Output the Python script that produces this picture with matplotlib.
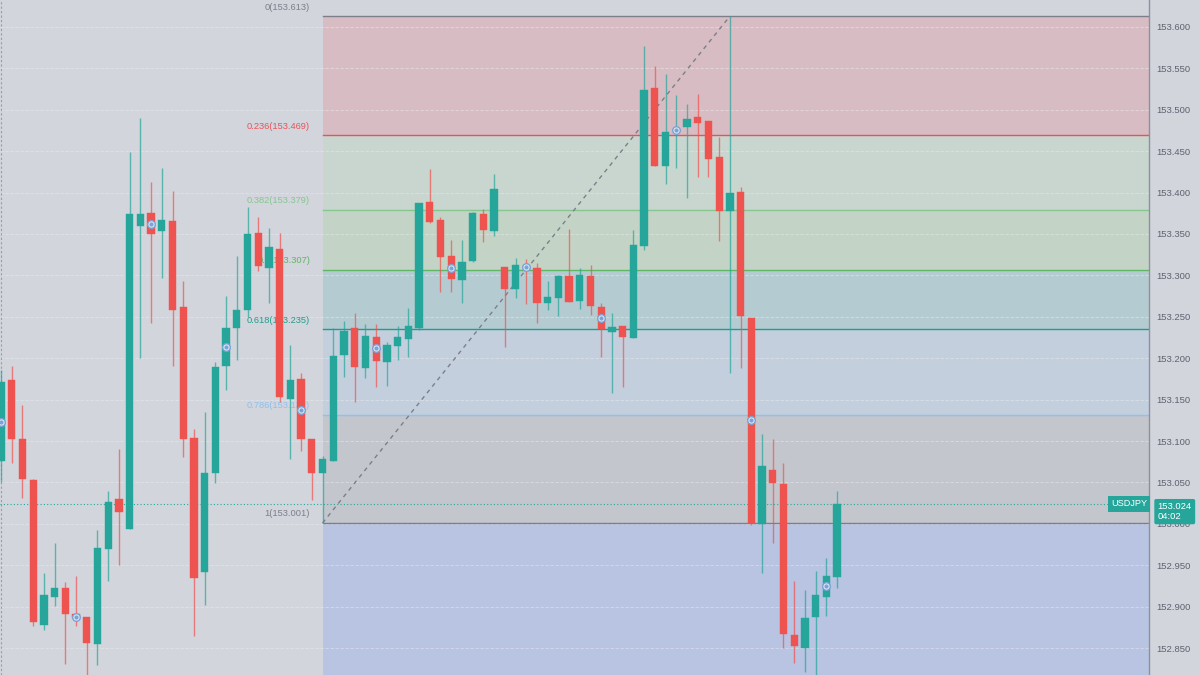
import matplotlib.pyplot as plt
from matplotlib.transforms import blended_transform_factory

# USDJPY velas (precios)
opens = [153.076, 153.174, 153.102, 153.053, 152.878, 152.912, 152.922, 152.891, 152.887, 152.855,
         152.970, 153.030, 152.994, 153.360, 153.375, 153.354, 153.366, 153.262, 153.104, 152.942,
         153.061, 153.191, 153.236, 153.258, 153.351, 153.309, 153.332, 153.151, 153.175, 153.102,
         153.061, 153.076, 153.204, 153.236, 153.188, 153.226, 153.195, 153.215, 153.223, 153.236,
         153.389, 153.367, 153.323, 153.294, 153.317, 153.374, 153.354, 153.310, 153.284, 153.311,
         153.309, 153.267, 153.273, 153.299, 153.269, 153.299, 153.262, 153.232, 153.239, 153.224,
         153.336, 153.526, 153.432, 153.474, 153.479, 153.491, 153.486, 153.443, 153.378, 153.401,
         153.249, 153.000, 153.065, 153.048, 152.866, 152.850, 152.887, 152.912, 152.936]
highs = [153.186, 153.191, 153.143, 153.054, 152.941, 152.977, 152.930, 152.937, 152.887, 152.993,
         153.040, 153.090, 153.449, 153.490, 153.413, 153.430, 153.402, 153.293, 153.114, 153.135,
         153.195, 153.275, 153.323, 153.383, 153.371, 153.357, 153.351, 153.216, 153.182, 153.102,
         153.082, 153.236, 153.245, 153.255, 153.241, 153.241, 153.220, 153.239, 153.261, 153.387,
         153.429, 153.371, 153.343, 153.343, 153.377, 153.380, 153.422, 153.310, 153.321, 153.320,
         153.315, 153.293, 153.300, 153.356, 153.309, 153.313, 153.267, 153.255, 153.239, 153.355,
         153.577, 153.553, 153.543, 153.518, 153.507, 153.519, 153.486, 153.467, 153.613, 153.407,
         153.249, 153.108, 153.102, 153.073, 152.931, 152.920, 152.943, 152.959, 153.040]
lows = [153.050, 153.073, 153.031, 152.876, 152.872, 152.901, 152.831, 152.877, 152.810, 152.829,
        152.931, 152.950, 152.994, 153.200, 153.243, 153.297, 153.191, 153.081, 152.865, 152.902,
        153.049, 153.162, 153.198, 153.250, 153.305, 153.267, 153.147, 153.078, 153.088, 153.029,
        153.001, 153.076, 153.177, 153.147, 153.176, 153.165, 153.166, 153.198, 153.201, 153.234,
        153.363, 153.280, 153.280, 153.267, 153.316, 153.340, 153.348, 153.214, 153.273, 153.265,
        153.243, 153.258, 153.251, 153.268, 153.259, 153.252, 153.201, 153.158, 153.165, 153.224,
        153.331, 153.432, 153.410, 153.430, 153.393, 153.419, 153.419, 153.342, 153.182, 153.188,
        152.999, 152.941, 152.977, 152.850, 152.832, 152.821, 152.812, 152.889, 152.922]
closes = [153.171, 153.102, 153.054, 152.881, 152.914, 152.922, 152.891, 152.886, 152.856, 152.971,
          153.026, 153.014, 153.374, 153.374, 153.350, 153.367, 153.258, 153.102, 152.935, 153.061,
          153.189, 153.236, 153.258, 153.350, 153.311, 153.334, 153.153, 153.174, 153.102, 153.061,
          153.078, 153.203, 153.233, 153.189, 153.227, 153.197, 153.216, 153.226, 153.239, 153.387,
          153.364, 153.322, 153.296, 153.316, 153.375, 153.355, 153.404, 153.284, 153.313, 153.307,
          153.267, 153.274, 153.299, 153.268, 153.300, 153.263, 153.235, 153.238, 153.226, 153.337,
          153.524, 153.432, 153.473, 153.477, 153.489, 153.484, 153.441, 153.378, 153.400, 153.251,
          153.001, 153.070, 153.049, 152.867, 152.852, 152.886, 152.914, 152.937, 153.024]

# marcadores de eventos
marker_idx = [0, 7, 14, 21, 28, 35, 42, 49, 56, 63, 70, 77]
marker_price = [153.123, 152.887, 153.362, 153.214, 153.137, 153.212, 153.309, 153.310,
                153.249, 153.476, 153.125, 152.925]

# Fibonacci
fib_start, fib_end = 30, 68
fib_levels = ["0", "0.236", "0.382", "0.5", "0.618", "0.786", "1", "1.618"]
fib_prices = [153.613, 153.469, 153.379, 153.307, 153.235, 153.132, 153.001, 152.623]
fib_line_colors = ["#7c7f8a", "#e8535a", "#86c68f", "#5fb665", "#1f9e8c", "#8fc0ee", "#7c7f8a", "#6f84c8"]
fib_fill_colors = ["#d8bcc3", "#c8d6cf", "#c3d4c6", "#b4ccd1", "#c3cfdd", "#c4c6cd", "#b8c4e2"]

ticker = "USDJPY"
last_price = 153.024
countdown = "04:02"

TEAL = "#26a69a"
RED = "#ef5350"
BG = "#d2d5dc"

plt.rcParams["font.family"] = ["Liberation Sans", "DejaVu Sans"]

fig = plt.figure(figsize=(12, 6.75), dpi=100, facecolor=BG)
ax = fig.add_axes([0, 0, 1149 / 1200, 1])
ax.set_facecolor(BG)

n = len(opens)
xs = list(range(n))
x_right = 107.1
ax.set_xlim(-0.093, x_right)
ax.set_ylim(152.8174, 153.6326)

# rejilla
ticks = [152.85 + 0.05 * k for k in range(16)]
ax.set_yticks(ticks)
ax.set_yticklabels([f"{t:.3f}" for t in ticks])
for t in ticks:
    ax.axhline(t, color="#eceef2", lw=0.8, ls=(0, (3, 1.5)), alpha=0.45, zorder=1)

# zonas de fibonacci
for k in range(len(fib_fill_colors)):
    ax.fill_between([fib_start, x_right], fib_prices[k + 1], fib_prices[k],
                    color=fib_fill_colors[k], lw=0, zorder=0.5)
for k, (lvl, p) in enumerate(zip(fib_levels[:-1], fib_prices[:-1])):
    ax.plot([fib_start, x_right], [p, p], color=fib_line_colors[k], lw=1, zorder=1.5)
    ax.annotate(f"{lvl}({p:.3f})", xy=(fib_start, p), xytext=(-9, 6.5),
                textcoords="offset points", ha="right", va="center",
                fontsize=6.7, color=fib_line_colors[k], zorder=1.6)

# linea de tendencia
ax.plot([fib_start, fib_end], [fib_prices[-2], fib_prices[0]], color="#7c7f8a",
        lw=1, ls=(0, (3, 3)), zorder=1.7)

# separador a la izquierda
ax.axvline(-0.02, color="#9a9da6", lw=0.8, ls=(0, (2, 2)), zorder=1)

# velas
colors = [TEAL if c >= o else RED for o, c in zip(opens, closes)]
ax.vlines(xs, lows, highs, colors=colors, lw=1, alpha=0.7, zorder=3)
bottoms = [min(o, c) for o, c in zip(opens, closes)]
heights = [max(abs(c - o), 0.0018) for o, c in zip(opens, closes)]
ax.bar(xs, heights, bottom=bottoms, width=0.68, color=colors, edgecolor=colors,
       lw=0.3, zorder=4)

ax.scatter(marker_idx, marker_price, s=30, facecolor="#e3eaf5", edgecolor="#7aa3d6",
           lw=1.0, zorder=5)
ax.scatter(marker_idx, marker_price, s=4, color="#7aa3d6", zorder=6)

# precio actual
ax.axhline(last_price, color=TEAL, lw=0.8, ls=(0, (1, 2)), zorder=2)
tr = blended_transform_factory(ax.transAxes, ax.transData)
ax.text(0.9985, last_price, ticker, transform=tr, ha="right", va="center", fontsize=6.6,
        color="white", zorder=7,
        bbox=dict(boxstyle="square,pad=0.35", fc=TEAL, ec="none"))
ax.text(1.0075, last_price + 0.002, f"{last_price:.3f}\n{countdown}", transform=tr, ha="left",
        va="top", fontsize=6.8, color="white", linespacing=1.1, clip_on=False, zorder=7,
        bbox=dict(boxstyle="round,pad=0.35,rounding_size=0.2", fc=TEAL, ec="none"))

# ejes
ax.yaxis.tick_right()
ax.tick_params(axis="y", length=0, pad=5, labelsize=6.8, labelcolor="#5f6270")
ax.set_xticks([])
for side in ["left", "top", "bottom"]:
    ax.spines[side].set_visible(False)
ax.spines["right"].set_color("#8e919b")
ax.spines["right"].set_linewidth(1)

fig.savefig("out.png", dpi=100, facecolor=BG)
